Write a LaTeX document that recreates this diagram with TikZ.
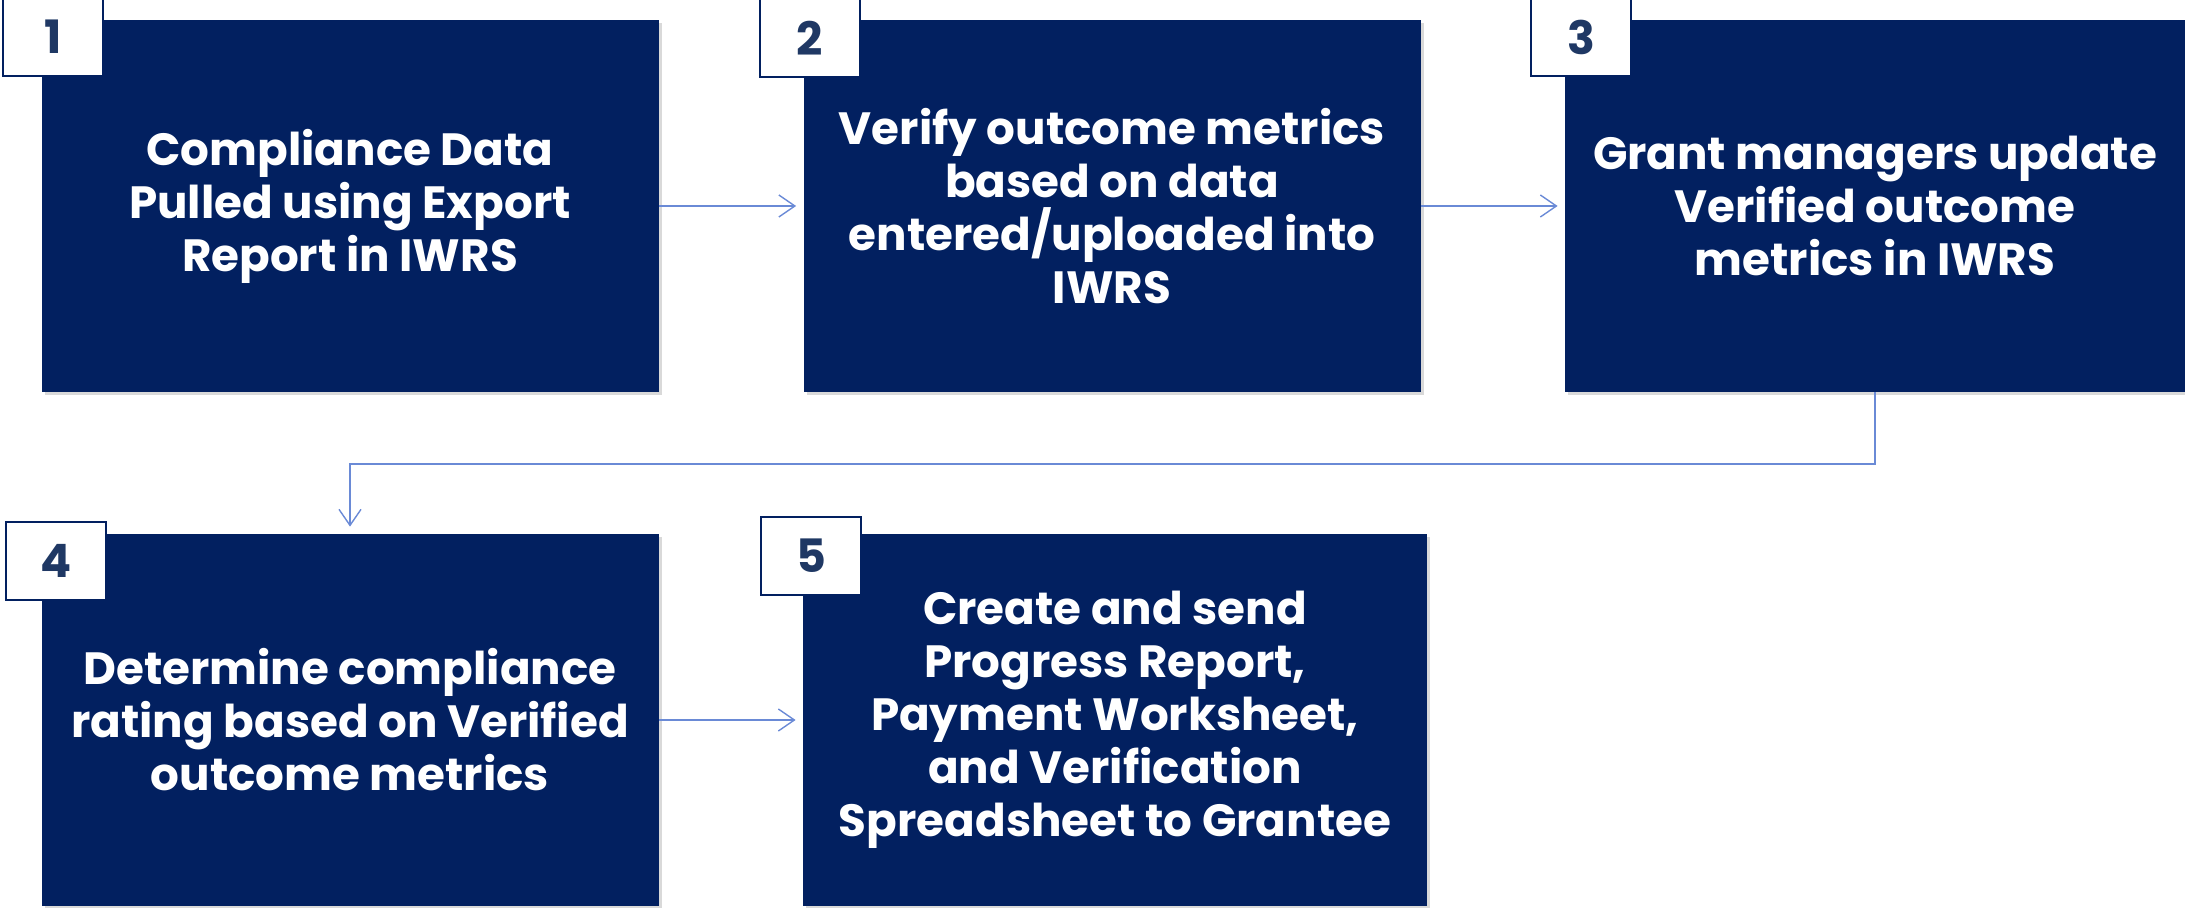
\documentclass[tikz,border=0pt]{standalone}
\usepackage{fontspec}
\setmainfont{Poppins}
\usepackage{tikz}
\usepackage{xcolor}
\usetikzlibrary{arrows.meta,shadows}

\definecolor{stepnavy}{HTML}{022060}
\definecolor{numblue}{HTML}{1F3864}
\definecolor{linkblue}{HTML}{6A8AD6}

\tikzset{
  stepbox/.style={fill=stepnavy, text=white, align=center,
    minimum width=308.5pt, minimum height=186pt, inner sep=0pt,
    font=\bfseries\fontsize{22.6}{26.5}\selectfont,
    drop shadow={opacity=0.3, shadow xshift=1.5pt, shadow yshift=-1.5pt}},
  numbox/.style={fill=white, draw=stepnavy, line width=1pt, text=numblue,
    minimum width=50pt, minimum height=39pt, inner sep=0pt,
    font=\bfseries\fontsize{23}{25}\selectfont},
  link/.style={->, draw=linkblue, line width=0.7pt, shorten >=3.5pt}
}

\begin{document}
\begin{tikzpicture}[x=0.5pt,y=-0.5pt, >={Straight Barb[length=8pt,width=11pt]}]
        \useasboundingbox (0,0) rectangle (2185,908);

        % steps
        \node[stepbox] (s1) at (350,206) {Compliance Data\\Pulled using Export\\Report in IWRS};
        \node[stepbox] (s2) at (1112,206) {Verify outcome metrics\\based on data\\entered/uploaded into\\IWRS};
        \node[stepbox, minimum width=310pt] (s3) at (1875,206) {Grant managers update\\Verified outcome\\metrics in IWRS};
        \node[stepbox] (s4) at (350,720) {Determine compliance\\rating based on Verified\\outcome metrics};
        \node[stepbox, minimum width=312pt] (s5) at (1115,720) {Create and send\\Progress Report,\\Payment Worksheet,\\and Verification\\Spreadsheet to Grantee};

        % step numbers
        \node[numbox] (n1) at (53,37) {1};
        \node[numbox] (n2) at (810,38) {2};
        \node[numbox] (n3) at (1581,37) {3};
        \node[numbox] (n4) at (56,561) {4};
        \node[numbox] (n5) at (811,556) {5};

        % connectors
        \draw[link] (s1) -- (s2);
        \draw[link] (s2) -- (s3);
        \coordinate (turn) at (1100,464);
        \draw[link] (s3.south) |- (turn) -| (s4.north);
        \draw[link] (s4) -- (s5);
    \end{tikzpicture}
\end{document}
